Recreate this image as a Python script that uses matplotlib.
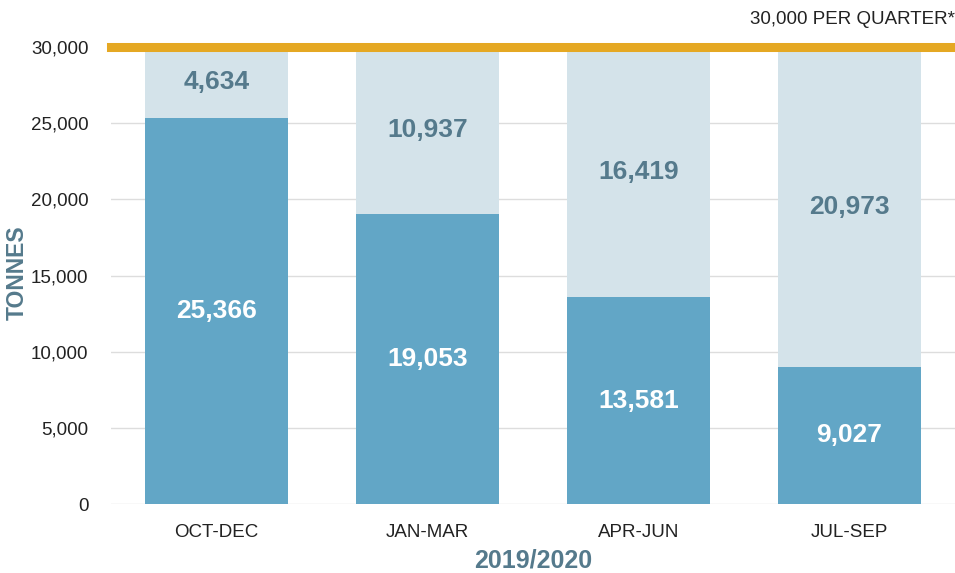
import matplotlib.pyplot as plt
import numpy as np

plt.rcParams['font.family'] = ['Liberation Sans', 'DejaVu Sans']

quarters = ['OCT-DEC', 'JAN-MAR', 'APR-JUN', 'JUL-SEP']
used = [25366, 19053, 13581, 9027]
remaining = [4634, 10937, 16419, 20973]
limit = 30000
yticks = [0, 5000, 10000, 15000, 20000, 25000, 30000]

dark = '#62a6c6'
light = '#d4e3ea'
label_col = '#557a8c'

fig = plt.figure(figsize=(9.55, 5.73), dpi=100)
ax = fig.add_axes([0.116, 0.12, 0.884, 0.798])

x = np.arange(len(quarters))
ax.bar(x, used, width=0.68, color=dark, zorder=2)
ax.bar(x, remaining, width=0.68, bottom=used, color=light, zorder=2)

for xi, u, r in zip(x, used, remaining):
    ax.text(xi, u / 2, f'{u:,}', ha='center', va='center', color='white',
            fontsize=19, fontweight='bold', zorder=3)
    ax.text(xi, u + r / 2, f'{r:,}', ha='center', va='center', color=label_col,
            fontsize=19, fontweight='bold', zorder=3)

ax.axhline(limit, color='#e5a823', linewidth=6.5, zorder=4, clip_on=False)
ax.text(1.0, 1.06, '30,000 PER QUARTER*', transform=ax.transAxes, ha='right',
        va='center', fontsize=13.5, color='#222222')

ax.set_xlim(-0.5, 3.5)
ax.set_ylim(0, limit)
ax.set_yticks(yticks)
ax.set_yticklabels([f'{t:,}' for t in yticks])
ax.set_xticks(x)
ax.set_xticklabels(quarters)
ax.tick_params(length=0, labelsize=13.5, colors='#222222')
ax.tick_params(axis='y', pad=16)
ax.tick_params(axis='x', pad=14)
ax.grid(axis='y', color='#dddddd', linewidth=1, zorder=0)
for s in ax.spines.values():
    s.set_visible(False)

# axis titles placed in figure space so they sit close to the edges
fig.text(17 / 955, 1 - 273 / 573, 'TONNES', rotation=90, ha='center', va='center',
         fontsize=16.5, fontweight='bold', color=label_col)
fig.text(533 / 955, 6 / 573, '2019/2020', ha='center', va='baseline',
         fontsize=18, fontweight='bold', color=label_col)

fig.savefig('out.png', dpi=100)
